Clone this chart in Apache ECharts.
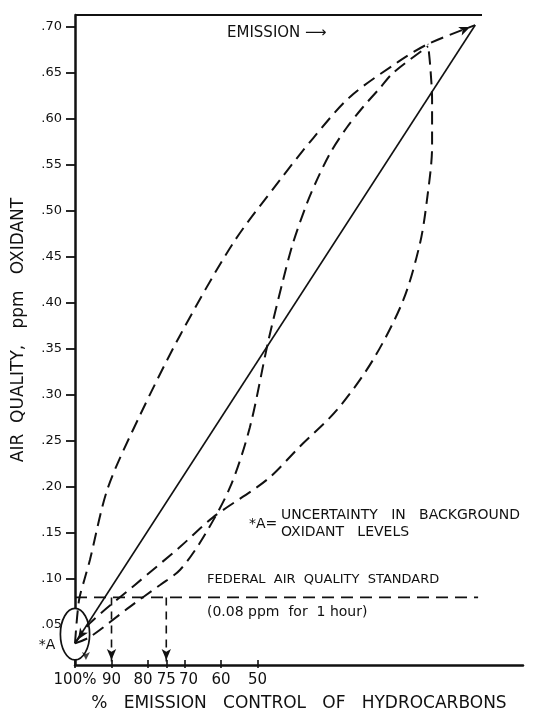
<!DOCTYPE html>
<html>
<head>
<meta charset="utf-8">
<script src="https://cdn.jsdelivr.net/npm/echarts@6/dist/echarts.min.js"></script>
<style>
  html, body { margin: 0; padding: 0; background: #fff; }
  #chart { width: 533px; height: 716px; }
</style>
</head>
<body>
<div id="chart"></div>
<script>
// Air quality (peak oxidant, ppm) against % control of hydrocarbon emissions.
// x values are % control: 100 at the oxidant axis, decreasing to the right.

const controlTicks = [100, 90, 80, 75, 70, 60, 50];
const oxidantTicks = [0.05, 0.10, 0.15, 0.20, 0.25, 0.30, 0.35, 0.40, 0.45, 0.50, 0.55, 0.60, 0.65, 0.70];

// straight-line (proportional) model
const linearModel = [[100, 0.030], [-9.6, 0.702]];

// concave model: oxidant stays high until control is nearly complete
const upperCurve = [
  [100, 0.030], [98.9, 0.077], [97.3, 0.101], [95.9, 0.121], [91.0, 0.199],
  [82.2, 0.278], [71.2, 0.365], [56.7, 0.465], [43.8, 0.534], [34.8, 0.579],
  [24.7, 0.624], [11.5, 0.662], [3.3, 0.6815], [-9.6, 0.702]
];

// S-shaped model
const sCurve = [
  [100, 0.030], [95.9, 0.037], [84.9, 0.070], [76.7, 0.0935], [71.2, 0.110],
  [64.9, 0.145], [57.5, 0.200], [52.1, 0.265], [47.1, 0.358], [43.0, 0.425],
  [40.3, 0.465], [36.4, 0.509], [33.7, 0.534], [30.1, 0.563], [25.5, 0.591],
  [21.1, 0.613], [16.4, 0.634], [12.9, 0.650], [3.3, 0.679]
];

// convex model: large gains only from the first cuts in emission
const lowerCurve = [
  [100, 0.030], [95.9, 0.052], [83.6, 0.0935], [71.2, 0.135], [62.2, 0.167],
  [47.4, 0.208], [38.4, 0.244], [28.2, 0.284], [18.4, 0.338], [10.1, 0.403],
  [5.5, 0.465], [3.6, 0.512], [2.2, 0.570], [2.2, 0.621], [2.7, 0.657], [3.3, 0.6815]
];

// federal standard and the control it demands under two of the models
const standardPpm = 0.08;
const standardSpan = [100, -10.4];
const requiredControl = [90, 75];

// background oxidant uncertainty (*A): centre [control, ppm] and half-extent
const backgroundCentre = [100, 0.040];
const backgroundSpread = [4.0, 0.028];
const backgroundMark = [[97, 0.0065]];

const xMin = -22.7, xMax = 100;
const yMin = 0.0065, yMax = 0.713;

const FONT = "'DejaVu Sans', sans-serif";
const INK = '#111';

const chart = echarts.init(document.getElementById('chart'), null, { renderer: 'canvas' });

const dashed = [13, 7];

function withEndArrow(points, index, rotate, offset) {
  return points.map((p, i) => i === index
    ? { value: p, symbol: 'arrow', symbolSize: [7, 11], symbolRotate: rotate, symbolOffset: offset }
    : { value: p, symbol: 'none' });
}

const curveBase = {
  type: 'line',
  smooth: 0.3,
  showSymbol: true,
  clip: false,
  silent: true,
  itemStyle: { color: INK },
  lineStyle: { color: INK, width: 2, type: dashed }
};

const series = [
  {
    type: 'custom',
    z: 1,
    silent: true,
    clip: false,
    data: [backgroundCentre.concat(backgroundSpread)],
    renderItem: (params, api) => {
      const c = api.coord([api.value(0), api.value(1)]);
      const s = api.size([api.value(2), api.value(3)]);
      return {
        type: 'group',
        children: [
          { type: 'ellipse', shape: { cx: c[0], cy: c[1], rx: s[0], ry: s[1] },
            style: { fill: '#fff', stroke: INK, lineWidth: 1.7 } },
          { type: 'text', x: c[0] - s[0] - 5, y: c[1] + 11,
            style: { text: '*A', fill: INK, font: "14px 'DejaVu Sans'", align: 'right', verticalAlign: 'middle' } }
        ]
      };
    }
  },
  Object.assign({}, curveBase, {
    name: 'linear',
    smooth: false,
    data: withEndArrow(linearModel, 0, 147, [3, -4]),
    lineStyle: { color: INK, width: 1.8, type: 'solid' }
  }),
  Object.assign({}, curveBase, {
    name: 'upper',
    data: withEndArrow(upperCurve, upperCurve.length - 1, -68, [-5, 2])
  }),
  Object.assign({}, curveBase, {
    name: 's-shaped',
    data: sCurve.map(p => ({ value: p, symbol: 'none' }))
  }),
  Object.assign({}, curveBase, {
    name: 'lower',
    data: lowerCurve.map(p => ({ value: p, symbol: 'none' }))
  }),
  Object.assign({}, curveBase, {
    name: 'standard',
    smooth: false,
    data: standardSpan.map(x => ({ value: [x, standardPpm], symbol: 'none' })),
    lineStyle: { color: INK, width: 1.8, type: [12, 7] }
  })
];

requiredControl.forEach(c => {
  series.push(Object.assign({}, curveBase, {
    name: 'required ' + c,
    smooth: false,
    data: withEndArrow([[c, standardPpm], [c, yMin]], 1, 180, [0, -5]),
    lineStyle: { color: INK, width: 1.6, type: [8, 6] }
  }));
});

series.push({
  type: 'scatter',
  silent: true,
  clip: false,
  data: backgroundMark,
  symbol: 'arrow',
  symbolSize: [6, 8],
  symbolRotate: 180,
  symbolOffset: [0, -5],
  itemStyle: { color: INK }
});

const xAxisBase = {
  type: 'value',
  inverse: true,
  min: xMin,
  max: xMax,
  position: 'bottom',
  splitLine: { show: false }
};

const tickFont = { fontFamily: FONT, fontSize: 15, color: INK };

chart.setOption({
  animation: false,
  backgroundColor: '#fff',
  grid: { left: 75, right: 10, top: 15, bottom: 51, containLabel: false, outerBoundsMode: 'none' },
  xAxis: [
    Object.assign({}, xAxisBase, {
      axisLine: { show: true, onZero: false, lineStyle: { color: INK, width: 2.5 } },
      axisTick: { show: true, inside: true, length: 5, customValues: controlTicks,
                  lineStyle: { color: INK, width: 1.6 } },
      axisLabel: {
        customValues: controlTicks, margin: 8, color: INK, fontFamily: FONT, fontSize: 15,
        formatter: v => (v === 100 ? '100%' : v === 80 ? '{l|80}' : v === 70 ? '{r|70}' : String(v)),
        rich: {
          l: Object.assign({ padding: [0, 10, 0, 0] }, tickFont),
          r: Object.assign({ padding: [0, 0, 0, 8] }, tickFont)
        }
      },
      name: '%   EMISSION   CONTROL   OF   HYDROCARBONS',
      nameLocation: 'middle',
      nameGap: 30,
      nameTextStyle: { color: INK, fontFamily: FONT, fontSize: 17 }
    }),
    Object.assign({}, xAxisBase, {
      axisLine: { show: false, onZero: false },
      axisTick: { show: true, inside: false, length: 3, customValues: controlTicks,
                  lineStyle: { color: INK, width: 1.6 } },
      axisLabel: { show: false }
    })
  ],
  yAxis: {
    type: 'value',
    min: yMin,
    max: yMax,
    splitLine: { show: false },
    axisLine: { show: true, onZero: false, lineStyle: { color: INK, width: 2.5 } },
    axisTick: { show: true, length: 9, customValues: oxidantTicks,
                lineStyle: { color: INK, width: 1.8 } },
    axisLabel: { customValues: oxidantTicks, margin: 13, color: INK,
                 fontFamily: FONT, fontSize: 13,
                 formatter: v => '.' + String(Math.round(v * 100)).padStart(2, '0') }
  },
  graphic: [
    { type: 'line', shape: { x1: 75, y1: 15, x2: 482, y2: 15 },
      style: { stroke: INK, lineWidth: 2 }, silent: true },
    { type: 'text', x: 19, y: 330, rotation: Math.PI / 2, silent: true,
      style: { text: 'AIR  QUALITY,   ppm   OXIDANT', fill: INK, font: "17px 'DejaVu Sans'",
               align: 'center', verticalAlign: 'middle' } },
    { type: 'text', x: 227, y: 33, silent: true,
      style: { text: 'EMISSION ⟶', fill: INK, font: "15px 'DejaVu Sans'", verticalAlign: 'middle' } },
    { type: 'text', x: 249, y: 524, silent: true,
      style: { text: '*A=', fill: INK, font: "14px 'DejaVu Sans'", verticalAlign: 'middle' } },
    { type: 'text', x: 281, y: 515, silent: true,
      style: { text: 'UNCERTAINTY   IN   BACKGROUND', fill: INK, font: "14px 'DejaVu Sans'", verticalAlign: 'middle' } },
    { type: 'text', x: 281, y: 532, silent: true,
      style: { text: 'OXIDANT   LEVELS', fill: INK, font: "14px 'DejaVu Sans'", verticalAlign: 'middle' } },
    { type: 'text', x: 207, y: 580, silent: true,
      style: { text: 'FEDERAL  AIR  QUALITY  STANDARD', fill: INK, font: "13px 'DejaVu Sans'", verticalAlign: 'middle' } },
    { type: 'text', x: 207, y: 612, silent: true,
      style: { text: '(0.08 ppm  for  1 hour)', fill: INK, font: "14px 'DejaVu Sans'", verticalAlign: 'middle' } }
  ],
  series: series
});
</script>
</body>
</html>
